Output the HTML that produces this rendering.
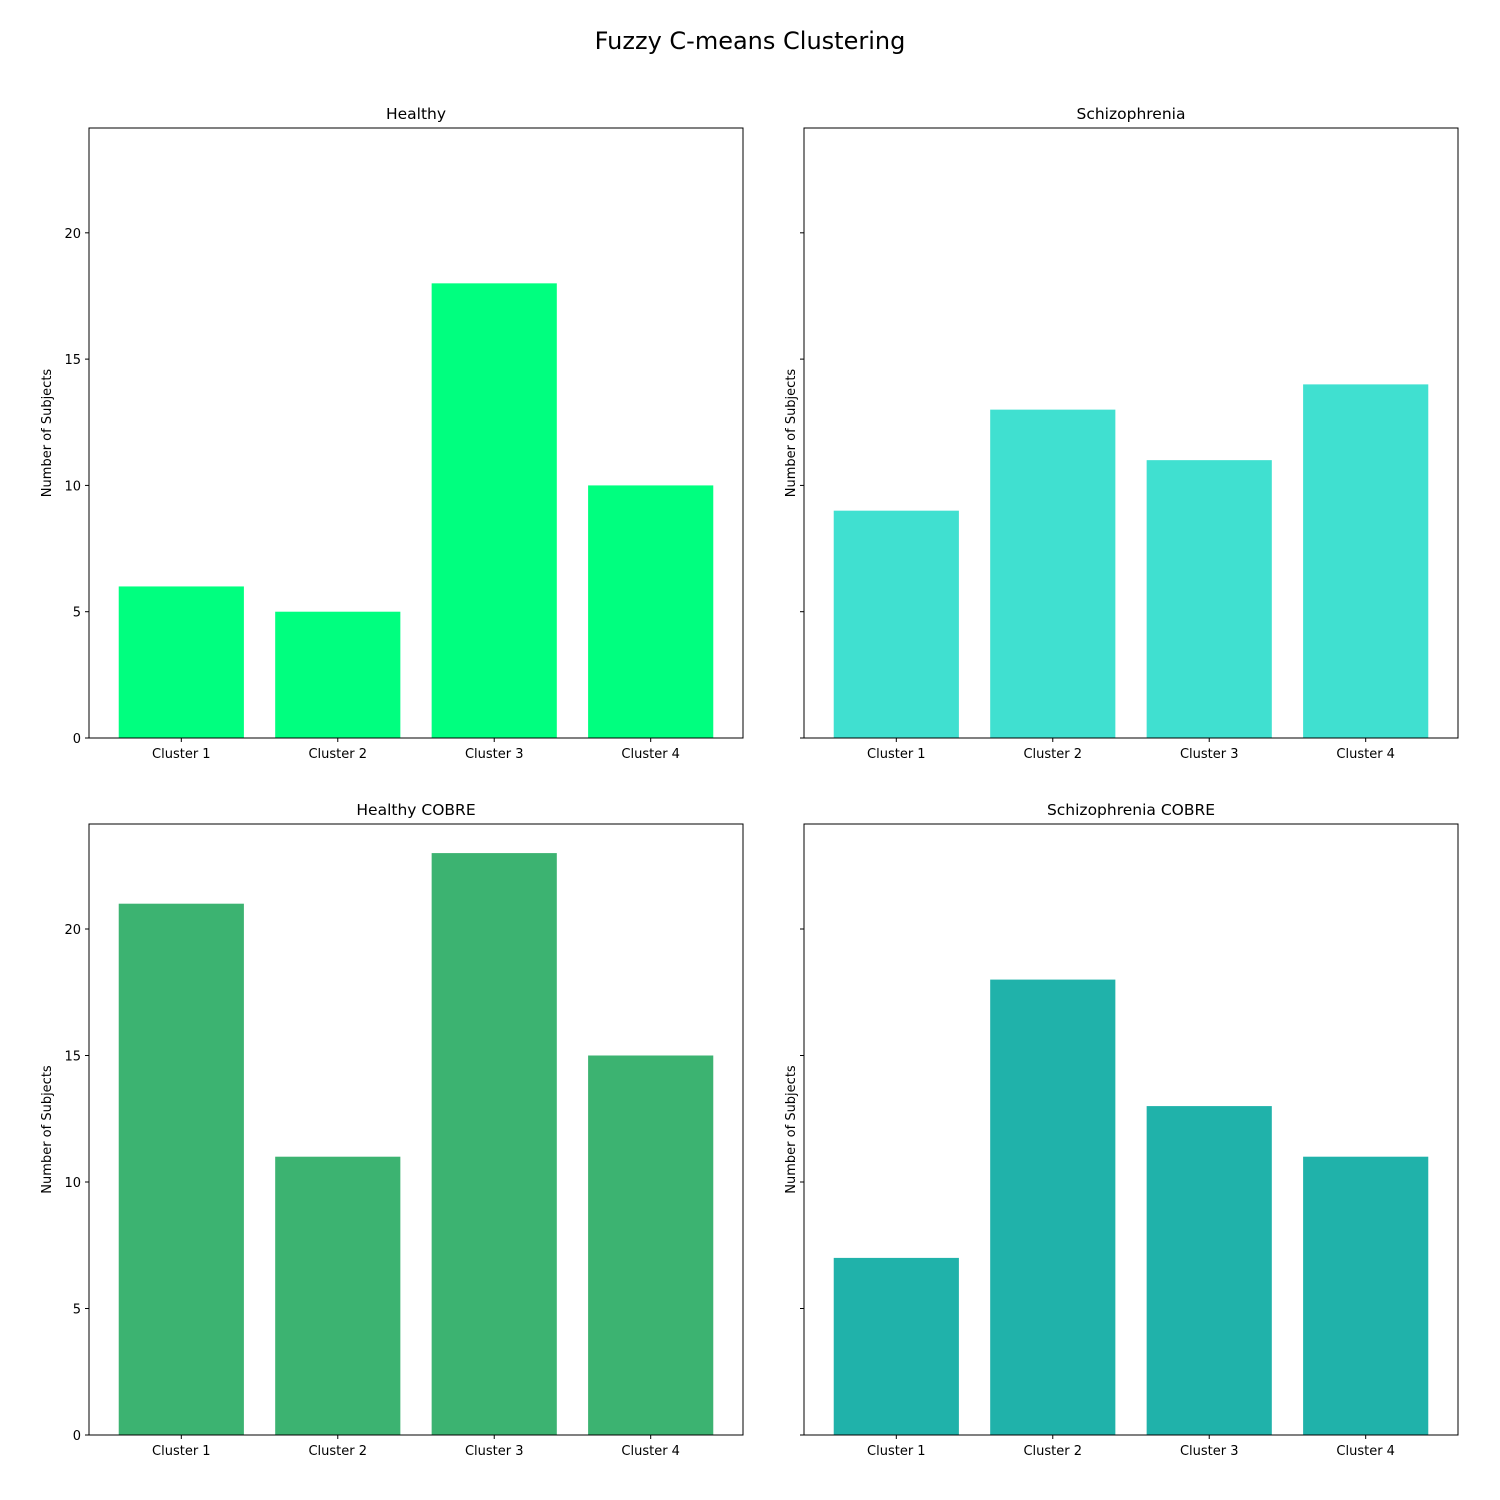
<!DOCTYPE html>
<html><head><meta charset="utf-8"><style>
html,body{margin:0;padding:0;background:#fff;}
svg{display:block;font-family:"DejaVu Sans","Liberation Sans",sans-serif;}
</style></head><body>
<svg id="fig" width="1500" height="1500" viewBox="0 0 1500 1500">
<text x="750" y="49" text-anchor="middle" font-size="24">Fuzzy C-means Clustering</text>
</svg>
<script>
const categories = ["Cluster 1","Cluster 2","Cluster 3","Cluster 4"];
const healthy = [6,5,18,10];
const schizophrenia = [9,13,11,14];
const healthyCobre = [21,11,23,15];
const schizophreniaCobre = [7,18,13,11];
const yTicks = [0,5,10,15,20];
const titles = ["Healthy","Schizophrenia","Healthy COBRE","Schizophrenia COBRE"];
const colors = ["#00ff7f","#40e0d0","#3cb371","#20b2aa"];
const series = [healthy, schizophrenia, healthyCobre, schizophreniaCobre];
const panels = [
  {x0:89,x1:743,y0:128,y1:738,labels:true,name:'healthy'},
  {x0:804,x1:1458,y0:128,y1:738,labels:false,name:'schizophrenia'},
  {x0:89,x1:743,y0:824,y1:1435,labels:true,name:'healthy-cobre'},
  {x0:804,x1:1458,y0:824,y1:1435,labels:false,name:'schizophrenia-cobre'}
];
const NS="http://www.w3.org/2000/svg";
const svg=document.getElementById('fig');
function mk(tag,attrs,parent){const e=document.createElementNS(NS,tag);for(const k in attrs)e.setAttribute(k,attrs[k]);(parent||svg).appendChild(e);return e;}
const yMax=24.15, xMin=-0.59, xMax=3.59;
panels.forEach((p,i)=>{
  const g=mk('g',{});
  
  
  const xs=v=>p.x0+(v-xMin)/(xMax-xMin)*(p.x1-p.x0);
  const ys=v=>p.y1-v/yMax*(p.y1-p.y0);
  series[i].forEach((v,j)=>{
    const r=mk('rect',{x:xs(j-0.4),y:ys(v),width:xs(j+0.4)-xs(j-0.4),height:ys(0)-ys(v),fill:colors[i]},g);
    
    
    mk('line',{x1:xs(j),x2:xs(j),y1:p.y1,y2:p.y1+4,stroke:'#000','stroke-width':1},g);
    const t=mk('text',{x:xs(j),y:p.y1+20,'text-anchor':'middle','font-size':13},g);
    t.textContent=categories[j];
    
    
  });
  yTicks.forEach(v=>{
    mk('line',{x1:p.x0-4,x2:p.x0,y1:ys(v),y2:ys(v),stroke:'#000','stroke-width':1},g);
    if(p.labels){
      const t=mk('text',{x:p.x0-8,y:ys(v)+5,'text-anchor':'end','font-size':13},g);
      t.textContent=v;
      
      
    }
  });
  const fr=mk('rect',{x:p.x0,y:p.y0,width:p.x1-p.x0,height:p.y1-p.y0,fill:'none',stroke:'#000','stroke-width':1},g);
  
  
  const tt=mk('text',{x:(p.x0+p.x1)/2,y:p.y0-9,'text-anchor':'middle','font-size':15.5},g);
  tt.textContent=titles[i];
  
  
  const cy=(p.y0+p.y1)/2, lx=p.labels ? p.x0-38 : p.x0-9;
  const yl=mk('text',{x:lx,y:cy,'text-anchor':'middle','font-size':13,transform:`rotate(-90 ${lx} ${cy})`},g);
  yl.textContent='Number of Subjects';
  
  
});
</script>
</body></html>
